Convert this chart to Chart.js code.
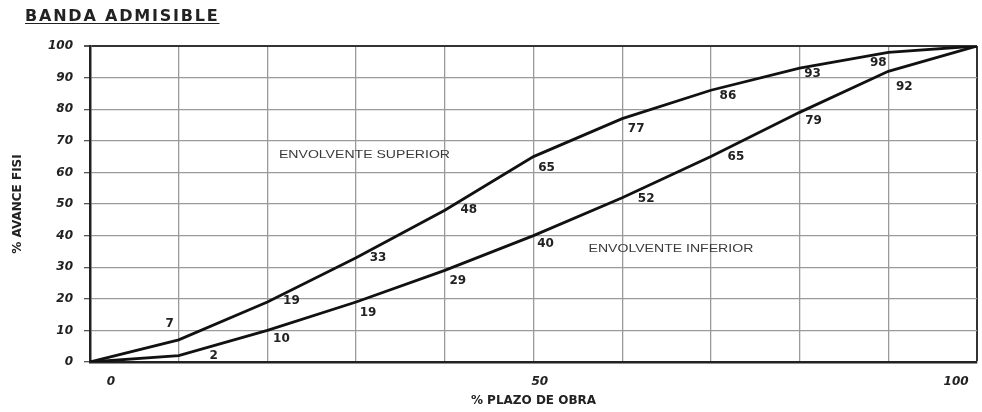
<!DOCTYPE html>
<html>
<head>
<meta charset="utf-8">
<script src="https://cdn.jsdelivr.net/npm/chart.js@4"></script>
<style>
  html, body { margin: 0; padding: 0; background: #fff; }
  #wrap { position: relative; width: 982px; height: 412px; }
  #title { position: absolute; left: 25px; top: 6px; font: bold 16px "DejaVu Sans", sans-serif; letter-spacing: 1.8px; color: #222; text-decoration: underline; text-underline-offset: 2px; }
  canvas { position: absolute; left: 0; top: 0; }
</style>
</head>
<body>
<div id="wrap">
  <canvas id="c" width="982" height="412"></canvas>
  <div id="title">BANDA ADMISIBLE</div>
</div>
<script>
// ---- data ----
const plazo = [0, 10, 20, 30, 40, 50, 60, 70, 80, 90, 100];
const envolventeSuperior = [0, 7, 19, 33, 48, 65, 77, 86, 93, 98, 100];
const envolventeInferior = [0, 2, 10, 19, 29, 40, 52, 65, 79, 92, 100];
const xTickLabels = { 0: '0', 50: '50', 100: '100' };
const yTicks = [0, 10, 20, 30, 40, 50, 60, 70, 80, 90, 100];
const seriesNames = ['ENVOLVENTE SUPERIOR', 'ENVOLVENTE INFERIOR'];
const seriesNamePos = [{ x: 21.3, y: 65.5 }, { x: 56.2, y: 35.7 }];
const xTitle = '% PLAZO DE OBRA';
const yTitle = '% AVANCE FISI';

// label offsets (pixels) relative to each point, per series (skip first and last)
const labelOffsets = [
  [null, [-9, -16], [24, -1], [22, 0], [24, 0], [13, 11], [14, 10], [17, 6], [13, 6], [-10, 11], null],
  [null, [35, 0], [14, 8], [12, 11], [13, 11], [12, 8], [24, 1], [25, 0], [14, 9], [16, 16], null]
];

const toXY = vals => plazo.map((x, i) => ({ x, y: vals[i] }));

const labelPlugin = {
  id: 'pointLabels',
  afterDatasetsDraw(chart) {
    const ctx = chart.ctx;
    const xs = chart.scales.x, ys = chart.scales.y;
    ctx.save();
    ctx.fillStyle = '#222';
    ctx.font = 'bold 12px "DejaVu Sans", sans-serif';
    ctx.textAlign = 'center';
    ctx.textBaseline = 'middle';
    chart.data.datasets.forEach((ds, di) => {
      const meta = chart.getDatasetMeta(di);
      meta.data.forEach((pt, i) => {
        const off = labelOffsets[di][i];
        if (!off) return;
        ctx.fillText(String(ds.data[i].y), pt.x + off[0], pt.y + off[1]);
      });
    });
    // series names
    ctx.fillStyle = '#3a3a3a';
    ctx.font = '11px "Liberation Sans", Arial, sans-serif';
    ctx.textAlign = 'left';
    seriesNames.forEach((name, i) => {
      const px = xs.getPixelForValue(seriesNamePos[i].x);
      const py = ys.getPixelForValue(seriesNamePos[i].y);
      ctx.save();
      ctx.translate(px, py);
      ctx.scale(1.28, 1);
      ctx.fillText(name, 0, 0);
      ctx.restore();
    });
    ctx.restore();
  }
};

new Chart(document.getElementById('c'), {
  type: 'line',
  data: {
    datasets: [
      { label: seriesNames[0], data: toXY(envolventeSuperior), borderColor: '#111', borderWidth: 2.8, pointRadius: 0, tension: 0, fill: false },
      { label: seriesNames[1], data: toXY(envolventeInferior), borderColor: '#111', borderWidth: 2.8, pointRadius: 0, tension: 0, fill: false }
    ]
  },
  options: {
    responsive: false,
    animation: false,
    layout: { padding: { left: 0, top: 46, right: 5, bottom: 0 } },
    plugins: { legend: { display: false }, tooltip: { enabled: false }, title: { display: false } },
    scales: {
      x: {
        type: 'linear', min: 0, max: 100,
        afterBuildTicks: s => { s.ticks = plazo.map(v => ({ value: v })); },
        afterFit: s => { s.height = 50; s.paddingLeft = 0; s.paddingRight = 0; },
        ticks: {
          autoSkip: false, maxRotation: 0, padding: 13, color: '#222',
          font: { family: '"DejaVu Sans", sans-serif', size: 12, weight: 'bold', style: 'italic' },
          callback: v => {
            if (v === 0) return '          0';
            if (v === 50) return '   50';
            if (v === 100) return '100          ';
            return '';
          }
        },
        grid: {
          drawTicks: false,
          color: c => (c.tick && c.tick.value === 100) ? '#333' : '#9a9a9a',
          lineWidth: c => (c.tick && c.tick.value === 100) ? 2 : 1.3
        },
        border: { display: true, color: '#222', width: 2.5 },
        title: { display: true, text: xTitle, color: '#222', padding: { top: 0, bottom: 4 },
          font: { family: '"DejaVu Sans", sans-serif', size: 12, weight: 'bold' } }
      },
      y: {
        type: 'linear', min: 0, max: 100,
        afterBuildTicks: s => { s.ticks = yTicks.map(v => ({ value: v })); },
        afterFit: s => { s.width = 90; s.paddingTop = 0; s.paddingBottom = 0; },
        ticks: {
          padding: 11, color: '#222',
          font: { family: '"DejaVu Sans", sans-serif', size: 12, weight: 'bold', style: 'italic' }
        },
        grid: {
          tickLength: 6, tickColor: '#555',
          color: c => (c.tick && c.tick.value === 100) ? '#333' : '#9a9a9a',
          lineWidth: c => (c.tick && c.tick.value === 100) ? 2 : 1.3
        },
        border: { display: true, color: '#222', width: 2.5 },
        title: { display: true, text: yTitle, color: '#222', padding: { top: 11, bottom: 0 },
          font: { family: '"DejaVu Sans", sans-serif', size: 12, weight: 'bold' } }
      }
    }
  },
  plugins: [labelPlugin]
});
</script>
</body>
</html>
